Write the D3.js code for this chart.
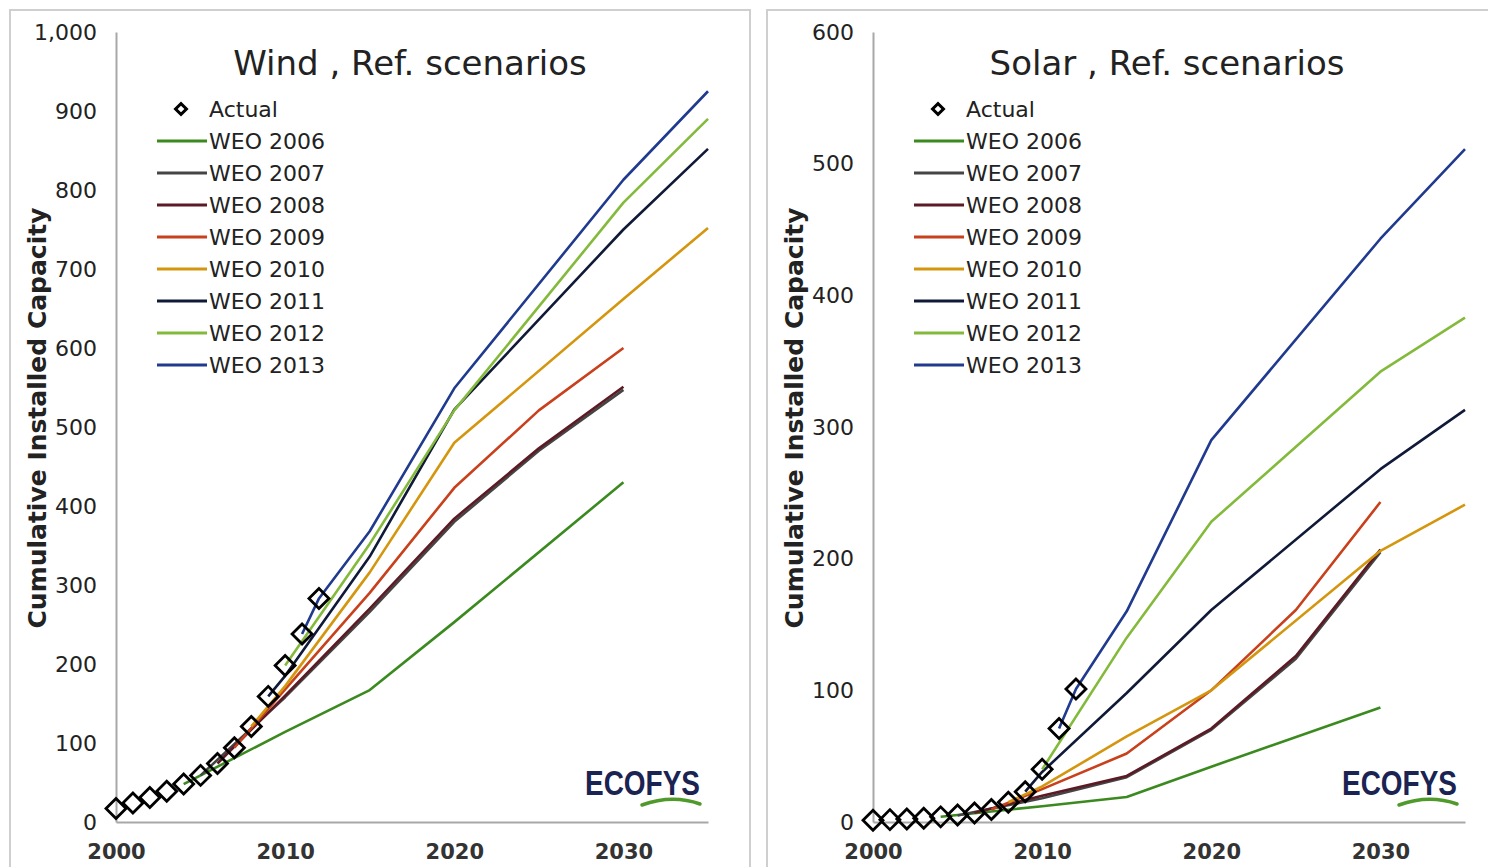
<!DOCTYPE html>
<html>
<head>
<meta charset="utf-8">
<title>Wind and Solar, Ref. scenarios</title>
<script src="https://d3js.org/d3.v7.min.js"></script>
<style>
  body { margin: 0; background: #fff; }
  svg { display: block; font-family: "DejaVu Sans", Verdana, sans-serif; }
</style>
</head>
<body>
<div id="chart"></div>
<script>
// actual installed capacity (GW)
const actualYears = [2000, 2001, 2002, 2003, 2004, 2005, 2006, 2007, 2008, 2009, 2010, 2011, 2012];
const windActual = [17, 24, 31, 39, 48, 59, 74, 94, 121, 159, 198, 238, 283];
const solarActual = [1.4, 1.8, 2.2, 2.8, 3.9, 5.3, 6.9, 9.5, 15, 23, 40, 71, 101];

// scenario names and colours
const scenarioNames = ['WEO 2006', 'WEO 2007', 'WEO 2008', 'WEO 2009', 'WEO 2010', 'WEO 2011', 'WEO 2012', 'WEO 2013'];
const scenarioColors = ['#3b8a1f', '#454545', '#5c1a24', '#c8401c', '#d4960e', '#101a38', '#84ba3c', '#1f3a8e'];

// wind projections
const windScenarioYears = [
  [2004, 2010, 2015, 2020, 2030],
  [2005, 2010, 2015, 2020, 2025, 2030],
  [2006, 2010, 2015, 2020, 2025, 2030],
  [2007, 2010, 2015, 2020, 2025, 2030],
  [2008, 2010, 2015, 2020, 2030, 2035],
  [2009, 2010, 2015, 2020, 2030, 2035],
  [2010, 2015, 2020, 2030, 2035],
  [2011, 2012, 2015, 2020, 2030, 2035]
];
const windScenarioValues = [
  [48, 114, 167, 253, 430],
  [59, 158, 266, 380, 470, 547],
  [74, 160, 270, 384, 473, 551],
  [94, 168, 290, 423, 521, 600],
  [121, 172, 316, 480, 662, 752],
  [159, 185, 336, 522, 750, 852],
  [198, 352, 521, 784, 890],
  [238, 283, 368, 549, 813, 925]
];

// solar projections
const solarScenarioYears = [
  [2004, 2010, 2015, 2020, 2030],
  [2005, 2010, 2015, 2020, 2025, 2030],
  [2006, 2010, 2015, 2020, 2025, 2030],
  [2007, 2010, 2015, 2020, 2025, 2030],
  [2008, 2010, 2015, 2020, 2030, 2035],
  [2009, 2010, 2015, 2020, 2030, 2035],
  [2010, 2015, 2020, 2030, 2035],
  [2011, 2012, 2015, 2020, 2030, 2035]
];
const solarScenarioValues = [
  [4, 12, 19, 42, 87],
  [5, 18, 34, 70, 124, 205],
  [7, 20, 35, 71, 126, 207],
  [9.5, 25, 52, 100, 161, 243],
  [15, 27, 65, 100, 206, 241],
  [23, 38, 98, 161, 268, 313],
  [40, 140, 228, 342, 383],
  [71, 101, 160, 290, 443, 511]
];

const windTicks = [0, 100, 200, 300, 400, 500, 600, 700, 800, 900, 1000];
const solarTicks = [0, 100, 200, 300, 400, 500, 600];
const xTicks = [2000, 2010, 2020, 2030];

const W = 1488, H = 867;
const svg = d3.select('#chart').append('svg')
  .attr('width', W).attr('height', H);

// panel frames
svg.append('rect').attr('x', 10).attr('y', 10).attr('width', 740).attr('height', 900)
  .attr('fill', '#fff').attr('stroke', '#cfcfcf').attr('stroke-width', 2);
svg.append('rect').attr('x', 767).attr('y', 10).attr('width', 760).attr('height', 900)
  .attr('fill', '#fff').attr('stroke', '#cfcfcf').attr('stroke-width', 2);

function drawPanel(left, title, yMax, yTicks, actual, scYears, scValues) {
  const top = 32, bottom = 822, plotW = 592;
  const g = svg.append('g').attr('transform', `translate(${left},0)`);

  const x = d3.scaleLinear().domain([2000, 2035]).range([0, plotW]);
  const y = d3.scaleLinear().domain([0, yMax]).range([bottom, top]);

  // axes
  const yAxis = g.append('g')
    .call(d3.axisLeft(y).tickValues(yTicks).tickFormat(d3.format(',')).tickSize(0).tickPadding(19));
  const xAxis = g.append('g').attr('transform', `translate(0,${bottom})`)
    .call(d3.axisBottom(x).tickValues(xTicks).tickFormat(d3.format('d')).tickSize(0).tickPadding(22));
  [yAxis, xAxis].forEach(a => {
    a.select('.domain').attr('stroke', '#a8a8a8').attr('stroke-width', 2);
    a.selectAll('text').attr('font-size', 22).attr('fill', '#222')
      .attr('font-family', '"DejaVu Sans", Verdana, sans-serif');
  });
  xAxis.selectAll('text').attr('font-weight', 'bold').attr('fill', '#333').attr('font-size', 21);

  g.append('text')
    .attr('transform', `translate(-70,418) rotate(-90)`)
    .attr('text-anchor', 'middle').attr('font-size', 25).attr('font-weight', 'bold')
    .attr('fill', '#222')
    .text('Cumulative Installed Capacity');

  g.append('text').attr('x', 294).attr('y', 75).attr('text-anchor', 'middle')
    .attr('font-size', 34).attr('fill', '#222').text(title);

  // scenario lines
  const line = d3.line().x(d => x(d[0])).y(d => y(d[1]));
  scValues.forEach((vals, i) => {
    const pts = vals.map((v, j) => [scYears[i][j], v]);
    g.append('path').datum(pts).attr('d', line)
      .attr('fill', 'none').attr('stroke', scenarioColors[i])
      .attr('stroke-width', 2.6).attr('stroke-linejoin', 'round');
  });

  // actual markers
  const diamond = d3.symbol().type(d3.symbolSquare).size(200);
  g.selectAll('.actual').data(actual).enter().append('path')
    .attr('class', 'actual')
    .attr('d', diamond)
    .attr('transform', (d, i) => `translate(${x(actualYears[i])},${y(d)}) rotate(45)`)
    .attr('fill', 'none').attr('stroke', '#000').attr('stroke-width', 2.8);

  // legend
  const lg = g.append('g');
  lg.append('path').attr('d', d3.symbol().type(d3.symbolSquare).size(60))
    .attr('transform', 'translate(65,109) rotate(45)')
    .attr('fill', 'none').attr('stroke', '#000').attr('stroke-width', 3);
  lg.append('text').attr('x', 93).attr('y', 109).attr('dy', '0.35em')
    .attr('font-size', 22).attr('fill', '#222').text('Actual');
  scenarioNames.forEach((name, i) => {
    const ly = 141 + i * 32;
    lg.append('line').attr('x1', 41).attr('x2', 91).attr('y1', ly).attr('y2', ly)
      .attr('stroke', scenarioColors[i]).attr('stroke-width', 3);
    lg.append('text').attr('x', 93).attr('y', ly).attr('dy', '0.35em')
      .attr('font-size', 22).attr('fill', '#222').text(name);
  });

  // ECOFYS mark
  g.append('text').attr('x', 469).attr('y', 795).attr('textLength', 115)
    .attr('lengthAdjust', 'spacingAndGlyphs')
    .attr('font-size', 35).attr('font-weight', 'bold').attr('fill', '#1a2352')
    .attr('font-family', '"Liberation Sans Narrow", "Liberation Sans", sans-serif')
    .text('ECOFYS');
  g.append('path').attr('d', 'M526,805 Q556,794 584,804')
    .attr('fill', 'none').attr('stroke', '#4f9a2a').attr('stroke-width', 3.5).attr('stroke-linecap', 'round');
}

drawPanel(116, 'Wind , Ref. scenarios', 1000, windTicks, windActual, windScenarioYears, windScenarioValues);
drawPanel(873, 'Solar , Ref. scenarios', 600, solarTicks, solarActual, solarScenarioYears, solarScenarioValues);
</script>
</body>
</html>
